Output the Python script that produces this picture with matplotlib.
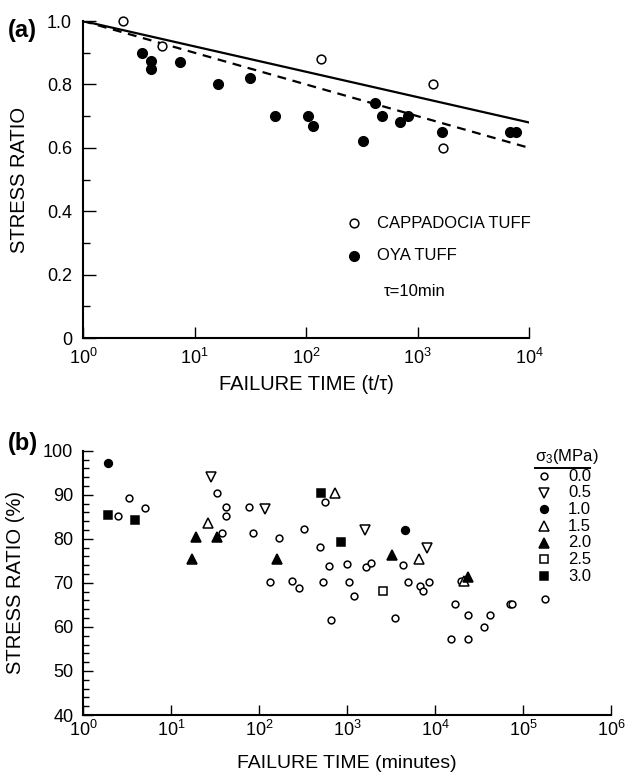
import matplotlib
matplotlib.use("Agg")
import matplotlib.pyplot as plt
from matplotlib import ticker

plt.rcParams["font.family"] = ["Liberation Sans", "DejaVu Sans"]
plt.rcParams["mathtext.fontset"] = "custom"
plt.rcParams["mathtext.rm"] = "Liberation Sans"
plt.rcParams["mathtext.it"] = "Liberation Sans:italic"
plt.rcParams["mathtext.bf"] = "Liberation Sans:bold"

# (a) normalised failure time t/tau vs stress ratio
cap_t = [2.3, 5.1, 135, 1390, 1690]
cap_sr = [1.00, 0.92, 0.88, 0.80, 0.60]
oya_t = [3.4, 4.1, 4.1, 7.4, 16.4, 31.5, 53, 105, 116, 327, 416, 477, 697, 827,
         1650, 6800, 7600]
oya_sr = [0.90, 0.875, 0.85, 0.87, 0.80, 0.82, 0.70, 0.70, 0.67, 0.62, 0.74,
          0.70, 0.68, 0.70, 0.65, 0.65, 0.65]
fit_t = [1, 1e4]
fit_cap = [1.0, 0.68]
fit_oya = [1.0, 0.60]

# (b) failure time in minutes, grouped by confining pressure sigma_3 (MPa)
s00_t = [2.5, 3.3, 5.1, 33, 42, 42, 38, 76, 85, 133, 170, 235, 284, 322, 490,
         538, 560, 630, 660, 1000, 1060, 1200, 1650, 1860, 3500, 4300, 4980,
         6700, 7250, 8610, 15200, 17100, 19600, 23800, 24000, 36000, 42200,
         72000, 75000, 178000]
s00_sr = [85.2, 89.3, 86.9, 90.4, 87.3, 85.1, 81.4, 87.3, 81.4, 70.2, 80.2,
          70.5, 68.8, 82.2, 78.2, 70.2, 88.3, 73.8, 61.5, 74.2, 70.2, 67.1,
          73.6, 74.4, 62.1, 74.1, 70.2, 69.2, 68.2, 70.2, 57.3, 65.2, 70.5,
          62.7, 57.3, 60.0, 62.7, 65.2, 65.2, 66.4]
s05_t = [28.3, 118, 1620, 8040]
s05_sr = [94.0, 86.8, 82.0, 77.9]
s10_t = [1.9, 4560]
s10_sr = [97.3, 82.0]
s15_t = [26.5, 727, 6600, 21500]
s15_sr = [83.5, 90.4, 75.4, 70.5]
s20_t = [17.2, 19.2, 33.6, 159, 3220, 23800]
s20_sr = [75.5, 80.4, 80.4, 75.5, 76.3, 71.4]
s25_t = [2560]
s25_sr = [68.2]
s30_t = [1.9, 3.9, 510, 847]
s30_sr = [85.3, 84.2, 90.4, 79.3]
sigma_labels = ["0.0", "0.5", "1.0", "1.5", "2.0", "2.5", "3.0"]

fig = plt.figure(figsize=(6.35, 7.76), dpi=100)
ax_a = fig.add_axes([0.1307, 0.5644, 0.7024, 0.4085])
ax_b = fig.add_axes([0.1307, 0.0786, 0.8315, 0.3406])


def style_axes(ax):
    for side in ("top", "right"):
        ax.spines[side].set_visible(False)
    for side in ("left", "bottom"):
        ax.spines[side].set_linewidth(1.5)
    ax.tick_params(direction="in", width=1.0, labelsize=13)
    ax.tick_params(which="minor", direction="in", width=1.0)


# ---- panel (a)
ax_a.set_xscale("log")
ax_a.plot(fit_t, fit_cap, color="black", lw=1.6)
ax_a.plot(fit_t, fit_oya, color="black", lw=1.6, ls=(0, (4, 3)))
ax_a.plot(cap_t, cap_sr, "o", ms=6.3, mfc="white", mec="black", mew=1.1,
          clip_on=False, zorder=3)
ax_a.plot(oya_t, oya_sr, "o", ms=7.0, mfc="black", mec="black",
          clip_on=False, zorder=3)
ax_a.set_xlim(1, 1e4)
ax_a.set_ylim(0, 1.0)
style_axes(ax_a)
ax_a.xaxis.set_major_locator(ticker.LogLocator(base=10, numticks=10))
ax_a.xaxis.set_minor_locator(ticker.NullLocator())
ax_a.yaxis.set_major_locator(ticker.FixedLocator([0, 0.2, 0.4, 0.6, 0.8, 1.0]))
ax_a.yaxis.set_major_formatter(ticker.FixedFormatter(["0", "0.2", "0.4", "0.6", "0.8", "1.0"]))
ax_a.yaxis.set_minor_locator(ticker.MultipleLocator(0.1))
ax_a.tick_params(axis="y", which="major", length=9, pad=8)
ax_a.tick_params(axis="y", which="minor", length=5)
ax_a.tick_params(axis="x", which="major", length=8, pad=7)
ax_a.set_ylabel("STRESS RATIO", fontsize=14.5)
ax_a.yaxis.set_label_coords(-0.121, 0.5)
ax_a.set_xlabel("FAILURE TIME (t/τ)", fontsize=14.5)
ax_a.xaxis.set_label_coords(0.5, -0.118)

ax_a.plot([0.607], [0.362], "o", ms=6.3, mfc="white", mec="black", mew=1.1,
          transform=ax_a.transAxes, clip_on=False)
ax_a.plot([0.607], [0.259], "o", ms=7.0, mfc="black", mec="black",
          transform=ax_a.transAxes, clip_on=False)
ax_a.text(0.659, 0.362, "CAPPADOCIA TUFF", transform=ax_a.transAxes,
          fontsize=12, va="center", ha="left")
ax_a.text(0.659, 0.259, "OYA TUFF", transform=ax_a.transAxes,
          fontsize=12, va="center", ha="left")
ax_a.text(0.675, 0.146, "τ=10min", transform=ax_a.transAxes,
          fontsize=12, va="center", ha="left")
fig.text(0.012, 0.961, "(a)", fontsize=17, fontweight="bold", va="center")

# ---- panel (b)
ax_b.set_xscale("log")
series_b = [
    (s00_t, s00_sr, "o", 4.9, "white"),
    (s05_t, s05_sr, "v", 6.5, "white"),
    (s10_t, s10_sr, "o", 5.6, "black"),
    (s15_t, s15_sr, "^", 6.5, "white"),
    (s20_t, s20_sr, "^", 6.5, "black"),
    (s25_t, s25_sr, "s", 5.2, "white"),
    (s30_t, s30_sr, "s", 5.6, "black"),
]
for t, sr, mk, ms, fc in series_b:
    ax_b.plot(t, sr, mk, ms=ms, mfc=fc, mec="black", mew=1.1, ls="none",
              clip_on=False, zorder=3)
ax_b.set_xlim(1, 1e6)
ax_b.set_ylim(40, 100)
style_axes(ax_b)
ax_b.xaxis.set_major_locator(ticker.LogLocator(base=10, numticks=10))
ax_b.xaxis.set_minor_locator(ticker.NullLocator())
ax_b.yaxis.set_major_locator(ticker.MultipleLocator(10))
ax_b.yaxis.set_minor_locator(ticker.MultipleLocator(2))
ax_b.tick_params(axis="y", which="major", length=7, pad=7)
ax_b.tick_params(axis="y", which="minor", length=4)
ax_b.tick_params(axis="x", which="major", length=7, pad=3.5)
ax_b.set_ylabel("STRESS RATIO (%)", fontsize=14.5)
ax_b.yaxis.set_label_coords(-0.110, 0.5)
ax_b.set_xlabel("FAILURE TIME (minutes)", fontsize=14)
ax_b.xaxis.set_label_coords(0.5, -0.152)

# sigma_3 key, drawn in axes coordinates
leg_x, txt_x, row0, drow = 0.874, 0.919, 0.904, 0.0631
ax_b.text(0.856, 0.977, r"$\mathregular{\sigma_3}$(MPa)", transform=ax_b.transAxes,
          fontsize=12, va="center", ha="left")
ax_b.plot([0.856, 0.960], [0.936, 0.936], color="black", lw=1.4,
          transform=ax_b.transAxes, clip_on=False)
for i, ((_, _, mk, ms, fc), lab) in enumerate(zip(series_b, sigma_labels)):
    y = row0 - i * drow
    ax_b.plot([leg_x], [y], mk, ms=ms, mfc=fc, mec="black", mew=1.1,
              transform=ax_b.transAxes, clip_on=False)
    ax_b.text(txt_x, y, lab, transform=ax_b.transAxes, fontsize=12,
              va="center", ha="left")
fig.text(0.012, 0.428, "(b)", fontsize=17, fontweight="bold", va="center")

fig.savefig("out.png", dpi=100)
